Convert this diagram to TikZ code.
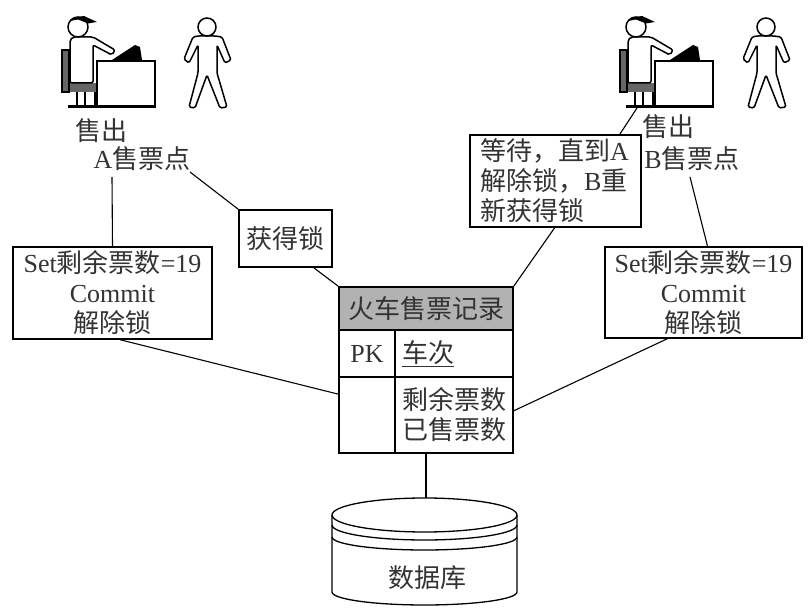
\documentclass[tikz,border=0pt]{standalone}
\usepackage{fontspec}
\setmainfont{Liberation Serif}
\newfontfamily\cjk{Noto Sans CJK SC}
\newcommand{\zh}[1]{{\cjk #1}}
\tikzset{
  txt/.style={inner sep=0pt, font=\fontsize{26}{30}\selectfont, align=center, text=black!80},
  recbox/.style={draw, line width=1.4pt, inner sep=0pt},
  conn/.style={line width=1.1pt},
  clerk/.pic={
    \fill[black!60] (62,50) rectangle (69,92);
    \fill[black!60] (62,83) rectangle (97,92);
    \draw[line width=1.2pt] (62,50) rectangle (69,92);
    \foreach \legx in {77,85,95} \draw[line width=1.4pt] (\legx,92) -- (\legx,107);
    \draw[line width=1.5pt, fill=white, rounded corners=2pt] (70,83) -- (70,40) -- (73,37) -- (93,37) -- (115,50) -- (112,55) -- (93,45) -- (93,83) -- cycle;
    \draw[line width=1.5pt] (78,27) circle (10);
    \fill (70,21) -- (74,17.5) -- (84,16) -- (97,22) -- (88,23.5) -- (78,19.5) -- cycle;
    \fill (112,60) -- (135,45) -- (140,47) -- (142,60) -- cycle;
    \draw[line width=1.5pt, fill=white] (97,61) rectangle (155,107);
    \draw[line width=3pt] (68,107) -- (155,107);
  },
  walker/.pic={
    \draw[line width=1.5pt] (207,27) circle (9);
    \draw[line width=1.5pt, rounded corners=1.5pt] (198,36) -- (193,37) -- (184,59) -- (189,63) -- (198,45) -- (198,73)
      -- (189,107) -- (195,108) -- (207,75) -- (220,108) -- (227,107) -- (217,73) -- (217,45)
      -- (225,63) -- (231,60) -- (222,37) -- (215,36) -- cycle;
  }
}
\begin{document}
\begin{tikzpicture}[x=1pt, y=-1pt]
  \useasboundingbox (0,0) rectangle (809,609);
  \pic at (0,0) {clerk};
  \pic at (0,0) {walker};
  \pic at (558,0) {clerk};
  \pic at (559,0) {walker};

  \node[txt] (soldA) at (101,131) {\zh{售出}};
  \node[txt] (siteA) at (142,159) {A\zh{售票点}};
  \node[txt] (soldB) at (668,127) {\zh{售出}};
  \node[txt] (siteB) at (692,159) {B\zh{售票点}};
  \coordinate (tailA) at (112,177);
  \coordinate (tailL) at (190,172);
  \coordinate (tailB) at (690,177);
  \coordinate (tailW) at (637,108);

  \node[txt, recbox, minimum width=199pt, minimum height=92pt] (commitA) at (112.5,293)
    {Set\zh{剩余票数}=19\\Commit\\\zh{解除锁}};
  \node[txt, recbox, minimum width=93pt, minimum height=57pt] (lockA) at (285.5,238.5) {\zh{获得锁}};
  \node[txt, recbox, text width=151pt, align=left, minimum width=171pt, minimum height=92pt] (waitB) at (555.5,181)
    {\zh{等待，直到}A\\\zh{解除锁，}B\zh{重}\\\zh{新获得锁}};
  \node[txt, recbox, minimum width=197pt, minimum height=91pt] (commitB) at (703.5,292.5)
    {Set\zh{剩余票数}=19\\Commit\\\zh{解除锁}};

  % ticket record table
  \node[recbox, fill=black!30, minimum width=174pt, minimum height=43pt, txt] (head) at (426,308.5) {\zh{火车售票记录}};
  \node[recbox, minimum width=56pt, minimum height=47pt, txt] (pk) at (367,353.5) {PK};
  \node[recbox, minimum width=118pt, minimum height=47pt, txt, text width=104pt, align=left] (train) at (454,353.5) {\underline{\zh{车次}}};
  \node[recbox, minimum width=56pt, minimum height=76pt] (blank) at (367,415) {};
  \node[recbox, minimum width=118pt, minimum height=76pt, txt] (fields) at (454,415) {\zh{剩余票数}\\\zh{已售票数}};

  % database
  \node[inner sep=0pt, minimum width=185pt, minimum height=107pt] (db) at (424.5,551.5) {};
  \draw[line width=1.3pt] (424.5,515) ellipse [x radius=92.5, y radius=17];
  \draw[line width=1.3pt] (332,515) -- (332,592) arc[start angle=180, end angle=0, x radius=92.5, y radius=13] -- (517,515);
  \draw[line width=1.3pt] (332,525) arc[start angle=180, end angle=0, x radius=92.5, y radius=15];
  \draw[line width=1.3pt] (332,537) arc[start angle=180, end angle=0, x radius=92.5, y radius=13];
  \node[txt] (dbname) at (427,578) {\zh{数据库}};

  % connectors
  \draw[conn] (tailA) -- (commitA.north);
  \draw[conn] (tailL) -- (lockA.north west);
  \draw[conn] (lockA.-46) -- (head.north west);
  \draw[conn] (commitA.-81) -- (blank.144.5);
  \draw[conn] (waitB.-91.5) -- (head.north east);
  \draw[conn] (waitB.36) -- (tailW);
  \draw[conn] (tailB) -- (commitB.85.6);
  \draw[conn] (commitB.-128) -- (fields.4.8);
  \draw[conn] (head.south |- fields.south) -- (head.south |- db.north);
\end{tikzpicture}
\end{document}
